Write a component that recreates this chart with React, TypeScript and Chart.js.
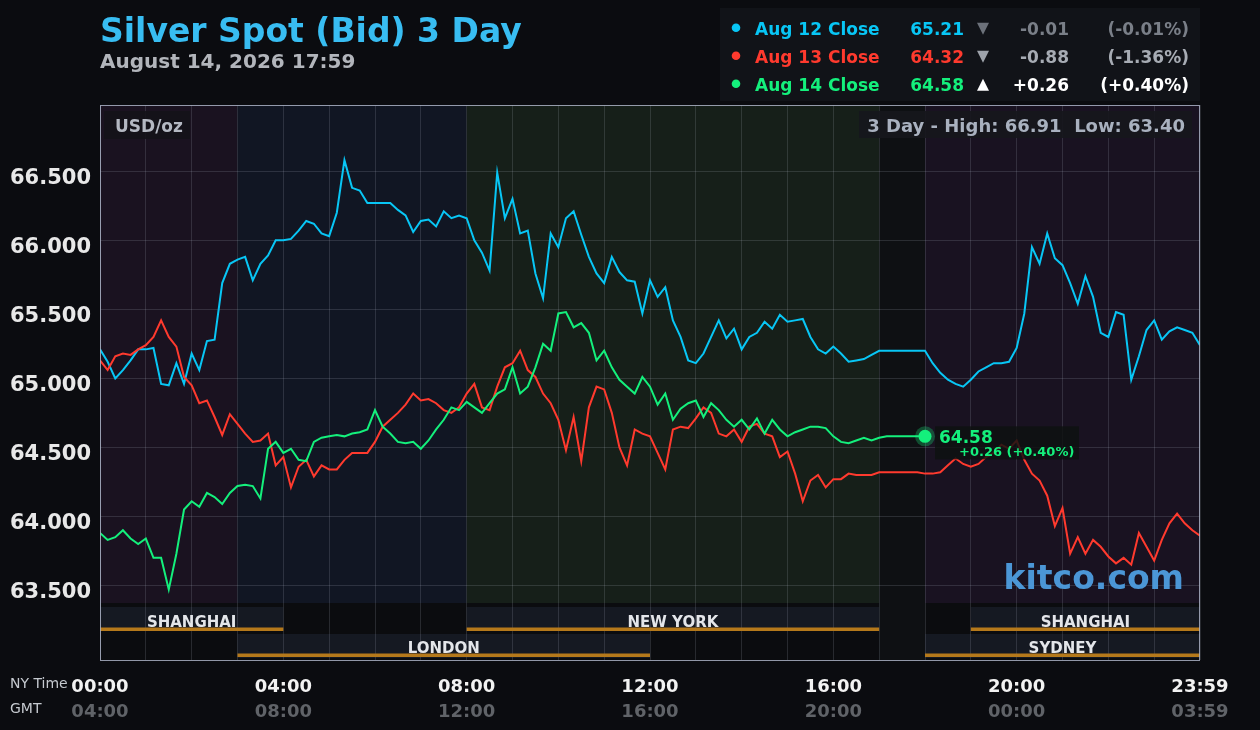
import React, { useEffect, useRef } from "react";
import { Chart, registerables } from "chart.js";

Chart.register(...registerables);

// ---- data (10-minute samples, NY time, starting 00:00) ----
const STEP_MIN = 10;
const aug12Close = [
  65.21, 65.12, 65.0, 65.06, 65.13, 65.21, 65.21, 65.22, 64.96, 64.95,
  65.11, 64.96, 65.18, 65.06, 65.27, 65.28, 65.69, 65.83, 65.86, 65.88,
  65.71, 65.83, 65.89, 66.0, 66.0, 66.01, 66.07, 66.14, 66.12, 66.05,
  66.03, 66.2, 66.58, 66.38, 66.36, 66.27, 66.27, 66.27, 66.27, 66.22,
  66.18, 66.06, 66.14, 66.15, 66.1, 66.21, 66.16, 66.18, 66.16, 66.0,
  65.91, 65.78, 66.49, 66.16, 66.3, 66.05, 66.07, 65.76, 65.58, 66.05,
  65.95, 66.16, 66.21, 66.04, 65.88, 65.76, 65.69, 65.88, 65.77, 65.71,
  65.7, 65.47, 65.71, 65.59, 65.66, 65.42, 65.3, 65.13, 65.11, 65.18,
  65.3, 65.42, 65.29, 65.36, 65.21, 65.3, 65.33, 65.41, 65.36, 65.46,
  65.41, 65.42, 65.43, 65.3, 65.21, 65.18, 65.23, 65.18, 65.12, 65.13,
  65.14, 65.17, 65.2, 65.2, 65.2, 65.2, 65.2, 65.2, 65.2, 65.11,
  65.04, 64.99, 64.96, 64.94, 64.99, 65.05, 65.08, 65.11, 65.11, 65.12,
  65.22, 65.47, 65.95, 65.83, 66.05, 65.87, 65.82, 65.69, 65.54, 65.74,
  65.59, 65.33, 65.3, 65.48, 65.46, 64.99, 65.16, 65.35, 65.42, 65.28,
  65.34, 65.37, 65.35, 65.33, 65.24,
];
const aug13Close = [
  65.13, 65.06, 65.16, 65.18, 65.17, 65.21, 65.24, 65.3, 65.42, 65.3,
  65.23, 65.01, 64.95, 64.82, 64.84, 64.72, 64.59, 64.74, 64.67, 64.6,
  64.54, 64.55, 64.6, 64.37, 64.43, 64.21, 64.36, 64.41, 64.29, 64.37,
  64.34, 64.34, 64.41, 64.46, 64.46, 64.46, 64.54, 64.65, 64.7, 64.75,
  64.81, 64.89, 64.84, 64.85, 64.82, 64.77, 64.75, 64.79, 64.89, 64.96,
  64.79, 64.77, 64.94, 65.08, 65.11, 65.2, 65.06, 65.01, 64.89, 64.82,
  64.7, 64.48, 64.72, 64.4, 64.79, 64.94, 64.92, 64.75, 64.5, 64.37,
  64.63, 64.6, 64.58, 64.46, 64.34, 64.63, 64.65, 64.64, 64.71, 64.79,
  64.75, 64.6, 64.58, 64.63, 64.54, 64.65, 64.67, 64.6, 64.58, 64.43,
  64.47, 64.31, 64.11, 64.26, 64.3, 64.21, 64.27, 64.27, 64.31, 64.3,
  64.3, 64.3, 64.32, 64.32, 64.32, 64.32, 64.32, 64.32, 64.31, 64.31,
  64.32, 64.37, 64.42, 64.38, 64.36, 64.38, 64.43, 64.46, 64.52, 64.49,
  64.55, 64.41, 64.31, 64.26, 64.15, 63.93, 64.06, 63.73, 63.85, 63.73,
  63.83, 63.78, 63.71, 63.66, 63.7, 63.65, 63.88, 63.78, 63.68, 63.83,
  63.95, 64.02, 63.95, 63.9, 63.86,
];
const aug14Close = [
  63.88, 63.83, 63.85, 63.9, 63.84, 63.8, 63.84, 63.7, 63.7, 63.47,
  63.73, 64.05, 64.11, 64.07, 64.17, 64.14, 64.09, 64.17, 64.22, 64.23,
  64.22, 64.13, 64.49, 64.54, 64.46, 64.49, 64.41, 64.4, 64.54, 64.57,
  64.58, 64.59, 64.58, 64.6, 64.61, 64.63, 64.77, 64.65, 64.6, 64.54,
  64.53, 64.54, 64.49, 64.55, 64.63, 64.7, 64.79, 64.77, 64.83, 64.79,
  64.75, 64.82, 64.89, 64.92, 65.08, 64.89, 64.94, 65.08, 65.25, 65.2,
  65.47, 65.48, 65.37, 65.4, 65.33, 65.13, 65.2, 65.08, 64.99, 64.94,
  64.89, 65.01, 64.94, 64.81, 64.89, 64.7, 64.78, 64.82, 64.84, 64.72,
  64.82, 64.77, 64.7, 64.65, 64.7, 64.63, 64.71, 64.6, 64.7, 64.63,
  64.58, 64.61, 64.63, 64.65, 64.65, 64.64, 64.58, 64.54, 64.53, 64.55,
  64.57, 64.55, 64.57, 64.58, 64.58, 64.58, 64.58, 64.58, 64.58,
];

const yTicks = [63.5, 64.0, 64.5, 65.0, 65.5, 66.0, 66.5];
const gridHours = [0, 1, 2, 3, 4, 5, 6, 7, 8, 9, 10, 11, 12, 13, 14, 15, 16, 17, 18, 19, 20, 21, 22, 23, 24];
const labelHours = [0, 4, 8, 12, 16, 20, 24];
const nyLabels = ["00:00", "04:00", "08:00", "12:00", "16:00", "20:00", "23:59"];
const gmtLabels = ["04:00", "08:00", "12:00", "16:00", "20:00", "00:00", "03:59"];

const legendNames = ["Aug 12 Close", "Aug 13 Close", "Aug 14 Close"];
const legendValues = ["65.21", "64.32", "64.58"];
const legendUp = [false, false, true];
const legendChanges = ["-0.01", "-0.88", "+0.26"];
const legendPcts = ["(-0.01%)", "(-1.36%)", "(+0.40%)"];

const sessionNames = ["SHANGHAI", "NEW YORK", "SHANGHAI", "LONDON", "SYDNEY"];
const sessionStart = [0, 8, 19, 3, 18];
const sessionEnd = [4, 17, 24, 12, 24];
const sessionRow = [0, 0, 0, 1, 1];

const shadeStart = [0, 3, 8, 17, 18];
const shadeEnd = [3, 8, 17, 18, 24];
const shadeColors = ["#1a1220", "#111623", "#161f19", "#0e1013", "#191221"];

const lastValue = 64.58;
const lastChangeText = "+0.26 (+0.40%)";
const highLowText = "3 Day - High: 66.91  Low: 63.40";

const CYAN = "#08c6f5";
const RED = "#ff3a2e";
const GREEN = "#14f07c";
const FONT = "'DejaVu Sans', sans-serif";

const toPoints = (arr: number[]) => arr.map((v, i) => ({ x: i * STEP_MIN, y: v }));

const decorPlugin = {
  id: "decor",
  beforeDraw(chart: any) {
    const { ctx, chartArea, scales } = chart;
    const xs = scales.x;
    const W = chart.width;
    const H = chart.height;
    const { left, right, top, bottom } = chartArea;
    const bandTop = 603;
    ctx.save();
    ctx.fillStyle = "#0b0c10";
    ctx.fillRect(0, 0, W, H);
    shadeStart.forEach((s, i) => {
      const x0 = xs.getPixelForValue(s * 60);
      const x1 = xs.getPixelForValue(shadeEnd[i] * 60);
      ctx.fillStyle = shadeColors[i];
      const full = i === 3;
      ctx.fillRect(x0, top, x1 - x0, (full ? bottom : bandTop) - top);
    });
    ctx.fillStyle = "#0b0c0f";
    const c0 = xs.getPixelForValue(17 * 60);
    const c1 = xs.getPixelForValue(18 * 60);
    ctx.fillRect(left, bandTop, c0 - left, bottom - bandTop);
    ctx.fillRect(c1, bandTop, right - c1, bottom - bandTop);
    sessionNames.forEach((_, i) => {
      const x0 = xs.getPixelForValue(sessionStart[i] * 60);
      const x1 = xs.getPixelForValue(sessionEnd[i] * 60);
      const y0 = sessionRow[i] === 0 ? 607 : 634;
      ctx.fillStyle = "#151922";
      ctx.fillRect(x0, y0, x1 - x0, 24);
    });
    ctx.restore();
  },
  afterDraw(chart: any) {
    const { ctx, chartArea, scales } = chart;
    const xs = scales.x;
    const ys = scales.y;
    const { left, right, top, bottom } = chartArea;
    ctx.save();

    sessionNames.forEach((name, i) => {
      const x0 = xs.getPixelForValue(sessionStart[i] * 60);
      const x1 = xs.getPixelForValue(sessionEnd[i] * 60);
      const row = sessionRow[i];
      ctx.fillStyle = "#b5791b";
      ctx.fillRect(x0, row === 0 ? 627.5 : 653.5, x1 - x0, 3.5);
      ctx.fillStyle = "#e4e6ea";
      ctx.font = `bold 15px ${FONT}`;
      ctx.textAlign = "center";
      ctx.textBaseline = "alphabetic";
      ctx.fillText(name, (x0 + x1) / 2, row === 0 ? 627 : 653);
    });

    ctx.strokeStyle = "rgba(170,178,196,0.85)";
    ctx.lineWidth = 1;
    ctx.strokeRect(left + 0.5, top + 0.5, right - left - 1, bottom - top);

    ctx.font = `bold 21px ${FONT}`;
    ctx.fillStyle = "#e8e8e8";
    ctx.textAlign = "right";
    yTicks.forEach((v) => {
      const y = ys.getPixelForValue(v);
      ctx.fillText(v.toFixed(3), 91, y + 12.7);
    });

    ctx.textAlign = "left";
    ctx.font = `14px ${FONT}`;
    ctx.fillStyle = "#c5c9cf";
    ctx.fillText("NY Time", 10, 688);
    ctx.fillText("GMT", 10, 713);
    ctx.textAlign = "center";
    ctx.font = `bold 18px ${FONT}`;
    labelHours.forEach((h, i) => {
      const x = xs.getPixelForValue(h * 60);
      ctx.fillStyle = "#f2f2f2";
      ctx.fillText(nyLabels[i], x, 692);
      ctx.fillStyle = "#606368";
      ctx.fillText(gmtLabels[i], x, 717);
    });

    ctx.textAlign = "left";
    ctx.font = `bold 33px ${FONT}`;
    ctx.fillStyle = "#38bdf2";
    ctx.fillText("Silver Spot (Bid) 3 Day", 100, 42);
    ctx.font = `bold 20px ${FONT}`;
    ctx.fillStyle = "#b2b5bb";
    ctx.fillText("August 14, 2026 17:59", 100, 67.5);

    ctx.fillStyle = "#111318";
    ctx.fillRect(720, 8, 480, 93);
    const nameColors = [CYAN, RED, GREEN];
    const arrowColors = ["#6c717a", "#9ea3ab", "#ffffff"];
    const chgColors = ["#7a7f88", "#a7acb4", "#ffffff"];
    legendNames.forEach((n, i) => {
      const cy = 28.3 + i * 28;
      const base = cy + 6.2;
      ctx.fillStyle = nameColors[i];
      ctx.beginPath();
      ctx.arc(736, cy - 0.5, 4.3, 0, Math.PI * 2);
      ctx.fill();
      ctx.font = `bold 17px ${FONT}`;
      ctx.textAlign = "left";
      ctx.fillText(n, 755, base);
      ctx.textAlign = "right";
      ctx.fillText(legendValues[i], 964, base);
      // arrow triangle
      ctx.fillStyle = arrowColors[i];
      ctx.beginPath();
      if (legendUp[i]) {
        ctx.moveTo(983, cy - 5.5);
        ctx.lineTo(989, cy + 6.5);
        ctx.lineTo(977, cy + 6.5);
      } else {
        ctx.moveTo(977, cy - 5.5);
        ctx.lineTo(989, cy - 5.5);
        ctx.lineTo(983, cy + 6.5);
      }
      ctx.closePath();
      ctx.fill();
      ctx.fillStyle = chgColors[i];
      ctx.textAlign = "right";
      ctx.fillText(legendChanges[i], 1069, base);
      ctx.fillText(legendPcts[i], 1189, base);
    });

    ctx.fillStyle = "rgba(20,19,24,0.9)";
    ctx.fillRect(104, 111, 86, 28);
    ctx.font = `bold 17px ${FONT}`;
    ctx.fillStyle = "#b4b8c2";
    ctx.textAlign = "left";
    ctx.fillText("USD/oz", 115, 131.5);

    ctx.fillStyle = "rgba(22,23,28,0.92)";
    ctx.fillRect(859, 111, 333, 27);
    ctx.font = `bold 18px ${FONT}`;
    ctx.fillStyle = "#a9b1bf";
    ctx.textAlign = "right";
    ctx.fillText(highLowText, 1185, 132);

    ctx.font = `bold 33px ${FONT}`;
    ctx.fillStyle = "rgba(78,158,224,0.95)";
    ctx.textAlign = "right";
    ctx.fillText("kitco.com", 1184, 589);

    const px = xs.getPixelForValue((aug14Close.length - 1) * STEP_MIN);
    const py = ys.getPixelForValue(lastValue);
    ctx.fillStyle = "rgba(14,17,16,0.82)";
    ctx.fillRect(935, py - 10, 144, 33);
    ctx.fillStyle = "rgba(20,240,124,0.28)";
    ctx.beginPath();
    ctx.arc(px, py, 10, 0, Math.PI * 2);
    ctx.fill();
    ctx.fillStyle = GREEN;
    ctx.beginPath();
    ctx.arc(px, py, 6.5, 0, Math.PI * 2);
    ctx.fill();
    ctx.textAlign = "left";
    ctx.font = `bold 17px ${FONT}`;
    ctx.fillText(lastValue.toFixed(2), 939, py + 7);
    ctx.font = `bold 13px ${FONT}`;
    ctx.fillText(lastChangeText, 959, py + 20);

    ctx.restore();
  },
};

export default function App() {
  const canvasRef = useRef<HTMLCanvasElement | null>(null);

  useEffect(() => {
    document.body.style.margin = "0";
    document.body.style.background = "#0b0c10";
    const canvas = canvasRef.current;
    if (!canvas) return;
    const gridColor = "rgba(190,196,215,0.16)";
    const chart = new Chart(canvas, {
      type: "line",
      data: {
        datasets: [
          { label: "Aug 14 Close", data: toPoints(aug14Close), borderColor: GREEN, borderWidth: 2, pointRadius: 0, tension: 0, order: 0 },
          { label: "Aug 13 Close", data: toPoints(aug13Close), borderColor: RED, borderWidth: 2, pointRadius: 0, tension: 0, order: 1 },
          { label: "Aug 12 Close", data: toPoints(aug12Close), borderColor: CYAN, borderWidth: 2, pointRadius: 0, tension: 0, order: 2 },
        ],
      },
      options: {
        animation: false,
        responsive: false,
        maintainAspectRatio: false,
        events: [],
        layout: { padding: { left: 100, right: 60, top: 105, bottom: 70 } },
        plugins: { legend: { display: false }, tooltip: { enabled: false } },
        scales: {
          x: {
            type: "linear",
            min: 0,
            max: 1440,
            ticks: { display: false },
            grid: { color: gridColor, drawTicks: false, lineWidth: 1 },
            border: { display: false },
            afterBuildTicks: (s: any) => {
              s.ticks = gridHours.map((h) => ({ value: h * 60 }));
            },
          },
          y: {
            type: "linear",
            min: 62.96,
            max: 66.98,
            ticks: { display: false },
            grid: { color: gridColor, drawTicks: false, lineWidth: 1 },
            border: { display: false },
            afterBuildTicks: (s: any) => {
              s.ticks = yTicks.map((v) => ({ value: v }));
            },
          },
        },
      },
      plugins: [decorPlugin],
    } as any);
    return () => chart.destroy();
  }, []);

  return (
    <div style={{ width: 1260, height: 730, background: "#0b0c10", position: "relative" }}>
      <canvas ref={canvasRef} width={1260} height={730} style={{ display: "block", width: 1260, height: 730 }} />
    </div>
  );
}
